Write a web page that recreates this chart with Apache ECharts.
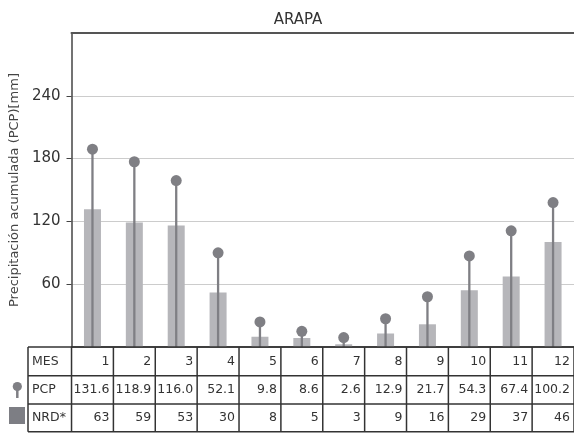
<!DOCTYPE html>
<html><head><meta charset="utf-8">
<script src="https://cdn.jsdelivr.net/npm/echarts@6/dist/echarts.min.js"></script>
<style>html,body{margin:0;padding:0;background:#fff;}#c{width:574px;height:433px;}</style>
</head><body><div id="c"></div>
<script>
const months = ['1','2','3','4','5','6','7','8','9','10','11','12'];
const pcp = [131.6,118.9,116.0,52.1,9.8,8.6,2.6,12.9,21.7,54.3,67.4,100.2];
const nrd = [63,59,53,30,8,5,3,9,16,29,37,46];
const pcpLabels = ['131.6','118.9','116.0','52.1','9.8','8.6','2.6','12.9','21.7','54.3','67.4','100.2'];
const yTicks = [60,120,180,240];
const title = 'ARAPA';
const yName = 'Precipitación acumulada (PCP)[mm]';

const FONT = 'DejaVu Sans';
const barColor = '#b6b6ba';
const pinColor = '#7f7f84';
const chart = echarts.init(document.getElementById('c'), null, {renderer:'canvas'});
const option = {
  animation:false,
  backgroundColor:'#fff',
  title:{text:title, left:293, top:8, textAlign:'center',
    textStyle:{fontFamily:FONT, fontSize:15, fontWeight:'normal', color:'#333'}},
  grid:{left:69, top:33, width:507, height:314},
  xAxis:[
    {type:'category', data:months, position:'bottom',
     axisLine:{show:true, onZero:false, lineStyle:{color:'#333', width:1.5}},
     axisTick:{show:false}, axisLabel:{show:false}, splitLine:{show:false}},
    {type:'category', data:months, position:'top',
     axisLine:{show:true, onZero:false, lineStyle:{color:'#555', width:2}},
     axisTick:{show:false}, axisLabel:{show:false}, splitLine:{show:false}}
  ],
  yAxis:[
    {type:'value', min:0, max:300, interval:60, position:'left',
     name:yName, nameLocation:'middle', nameGap:48, nameRotate:90,
     nameTextStyle:{fontFamily:FONT, fontSize:13, color:'#444'},
     axisLine:{show:true, lineStyle:{color:'#444', width:1.5}},
     axisTick:{show:true, inside:false, length:5, customValues:yTicks, lineStyle:{color:'#444'}},
     axisLabel:{fontFamily:FONT, fontSize:15, color:'#333', margin:11, customValues:yTicks},
     splitLine:{show:true, lineStyle:{color:'#cccccc', width:1}}},
    {type:'value', min:0, max:100, show:false, splitLine:{show:false}}
  ],
  series:[
    {type:'bar', name:'PCP', data:pcp, xAxisIndex:0, yAxisIndex:0, barWidth:17,
     itemStyle:{color:barColor}, z:2},
    {type:'bar', name:'NRD stem', data:nrd, xAxisIndex:1, yAxisIndex:1, barWidth:2.3,
     itemStyle:{color:pinColor}, z:3},
    {type:'scatter', name:'NRD', data:nrd, xAxisIndex:1, yAxisIndex:1, symbol:'circle', symbolSize:11,
     itemStyle:{color:pinColor, opacity:1}, z:4}
  ]
};
chart.setOption(option);

// Build table from axis positions
const centers = months.map((m,i)=>chart.convertToPixel({xAxisIndex:0}, i));
const w = centers[1]-centers[0];
const tableLeft = 28;
const firstCol = centers[0]-w/2;
const lastCol = centers[centers.length-1]+w/2;
const rowTops = [347, 375.7, 404, 431.7];
const rows = [
  {head:'MES', vals:months},
  {head:'PCP', vals:pcpLabels},
  {head:'NRD*', vals:nrd.map(String)}
];
const g = [];
const lineStyle = {stroke:'#333', lineWidth:1.5};
rowTops.forEach(y=>g.push({type:'line', shape:{x1:tableLeft, y1:y, x2:lastCol+2, y2:y}, style:lineStyle, z:10}));
const vx = [tableLeft, firstCol].concat(centers.map(c=>c+w/2));
vx.forEach(x=>g.push({type:'line', shape:{x1:x, y1:rowTops[0], x2:x, y2:rowTops[3]}, style:lineStyle, z:10}));
rows.forEach((r,ri)=>{
  const yc = (rowTops[ri]+rowTops[ri+1])/2;
  g.push({type:'text', x:tableLeft+4, y:yc, style:{text:r.head, fontFamily:FONT, fontSize:12.5, fill:'#333', align:'left', verticalAlign:'middle'}, z:11});
  r.vals.forEach((v,i)=>{
    g.push({type:'text', x:centers[i]+w/2-4, y:yc, style:{text:v, fontFamily:FONT, fontSize:12.5, fill:'#333', align:'right', verticalAlign:'middle'}, z:11});
  });
});
// legend markers
g.push({type:'line', shape:{x1:17.3, y1:387, x2:17.3, y2:398}, style:{stroke:pinColor, lineWidth:2.5}, z:10});
g.push({type:'circle', shape:{cx:17.3, cy:386.5, r:4.6}, style:{fill:pinColor}, z:11});
g.push({type:'rect', shape:{x:9, y:407, width:16, height:17}, style:{fill:'#7d7e84'}, z:10});
chart.setOption({graphic:{elements:g}});
</script></body></html>
